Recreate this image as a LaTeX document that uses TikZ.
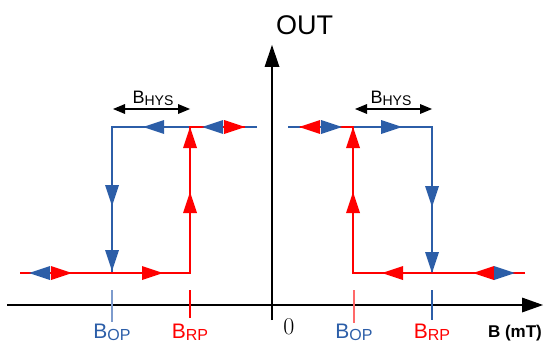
\documentclass[tikz,border=0pt]{standalone}
\usepackage{fontspec}
\usepackage{xcolor}
\usepackage{tikz}
\usetikzlibrary{positioning,arrows.meta,calc}
\newfontfamily\arial{Liberation Sans}
\definecolor{hallblue}{RGB}{44,94,168}
\definecolor{hallred}{RGB}{255,0,0}
\definecolor{tickblue}{RGB}{125,155,205}
\definecolor{tickred}{RGB}{255,105,105}
\newcommand{\Bsub}[3]{{\fontsize{#1}{#1}\selectfont B}\raisebox{-2pt}{\fontsize{#2}{#2}\selectfont #3}}

\begin{document}
\begin{tikzpicture}[
    x=1pt, y=-1pt,
    axis/.style={line width=1.5pt, black},
    bluecurve/.style={line width=2pt, hallblue},
    redcurve/.style={line width=2pt, hallred},
    tri/.style={-{Triangle[length=21pt,width=14pt,line width=0pt]}},
    tickmark/.style={line width=1.2pt},
    hys/.style={{Triangle[length=12pt,width=10pt,line width=0pt]}-{Triangle[length=12pt,width=10pt,line width=0pt]}, line width=1.4pt},
    lbl/.style={font=\arial, inner sep=0pt, anchor=base}
]
\useasboundingbox (0,0) rectangle (545,342);

% Axes
\coordinate (xs) at (7,305);
\coordinate (xe) at (543,305);
\coordinate (ys) at (272,320);
\coordinate (ye) at (272,45);
\draw[axis, -{Triangle[length=21pt,width=15pt,line width=0pt]}] (xs) -- (xe);
\draw[axis, -{Triangle[length=22pt,width=15pt,line width=0pt]}] (ys) -- (ye);
\node[lbl, anchor=west, font=\arial\fontsize{27}{27}\selectfont] (out) at (276,25) {OUT};
\node[lbl, font=\arial\bfseries\fontsize{17}{17}\selectfont] (bmt) at (515,337) {B (mT)};
\node[lbl, font=\fontsize{24}{24}\selectfont] (zero) at (289,334) {0};

% Left loop corners
\coordinate (l0) at (20,273);
\coordinate (lop) at (112,273);
\coordinate (lrp) at (190,273);
\coordinate (loptop) at (112,127);
\coordinate (lrptop) at (190,127);
\coordinate (ltopred) at (245,127);
\coordinate (ltopend) at (257,127);

\draw[bluecurve] (ltopend) -- (loptop) -- (lop) -- (l0);
\draw[redcurve] (l0) -- (lrp) -- (lrptop) -- (ltopred);

% Left loop markers
\draw[bluecurve, tri] (166,127) -- (143,127);
\draw[bluecurve, tri] (223,127) -- (202,127);
\draw[redcurve, tri] (223,127) -- (245,127);
\draw[bluecurve, tri] (112,185) -- (112,206);
\draw[bluecurve, tri] (112,250) -- (112,271);
\draw[redcurve, tri] (190,148) -- (190,127);
\draw[redcurve, tri] (190,213) -- (190,192);
\draw[bluecurve, tri] (50,273) -- (29,273);
\draw[redcurve, tri] (50,273) -- (72,273);
\draw[redcurve, tri] (142,273) -- (163,273);

% Right loop corners
\coordinate (r0) at (525,273);
\coordinate (rop) at (353,273);
\coordinate (rrp) at (432,273);
\coordinate (roptop) at (353,127);
\coordinate (rrptop) at (432,127);
\coordinate (rtopred) at (300,127);
\coordinate (rtopend) at (288,127);

\draw[bluecurve] (rtopend) -- (rrptop) -- (rrp) -- (r0);
\draw[redcurve] (r0) -- (rop) -- (roptop) -- (rtopred);

% Right loop markers
\draw[redcurve, tri] (320,127) -- (299,127);
\draw[bluecurve, tri] (320,127) -- (342,127);
\draw[bluecurve, tri] (380,127) -- (402,127);
\draw[bluecurve, tri] (432,186) -- (432,207);
\draw[bluecurve, tri] (432,252) -- (432,273);
\draw[redcurve, tri] (353,148) -- (353,127);
\draw[redcurve, tri] (353,213) -- (353,192);
\draw[redcurve, tri] (403,273) -- (382,273);
\draw[redcurve, tri] (494,273) -- (473,273);
\draw[bluecurve, tri] (494,273) -- (515,273);

% Hysteresis widths
\draw[hys] (113,109) -- (190,109);
\draw[hys] (355,109) -- (432,109);
\node[lbl] (hysl) at (153,103) {\Bsub{18}{14}{HYS}};
\node[lbl] (hysr) at (391,103) {\Bsub{18}{14}{HYS}};

% Ticks and thresholds
\draw[tickmark, tickblue] (112,290) -- (112,322);
\draw[tickmark, hallred] (190,290) -- (190,318);
\draw[tickmark, tickred] (354,290) -- (354,323);
\draw[tickmark, hallblue] (432,290) -- (432,320);
\node[lbl, text=hallblue] (bopl) at (112,338) {\Bsub{21}{16}{OP}};
\node[lbl, text=hallred] (brpl) at (190,338) {\Bsub{21}{16}{RP}};
\node[lbl, text=hallblue] (bopr) at (354,338) {\Bsub{21}{16}{OP}};
\node[lbl, text=hallred] (brpr) at (432,338) {\Bsub{21}{16}{RP}};

\end{tikzpicture}
\end{document}
